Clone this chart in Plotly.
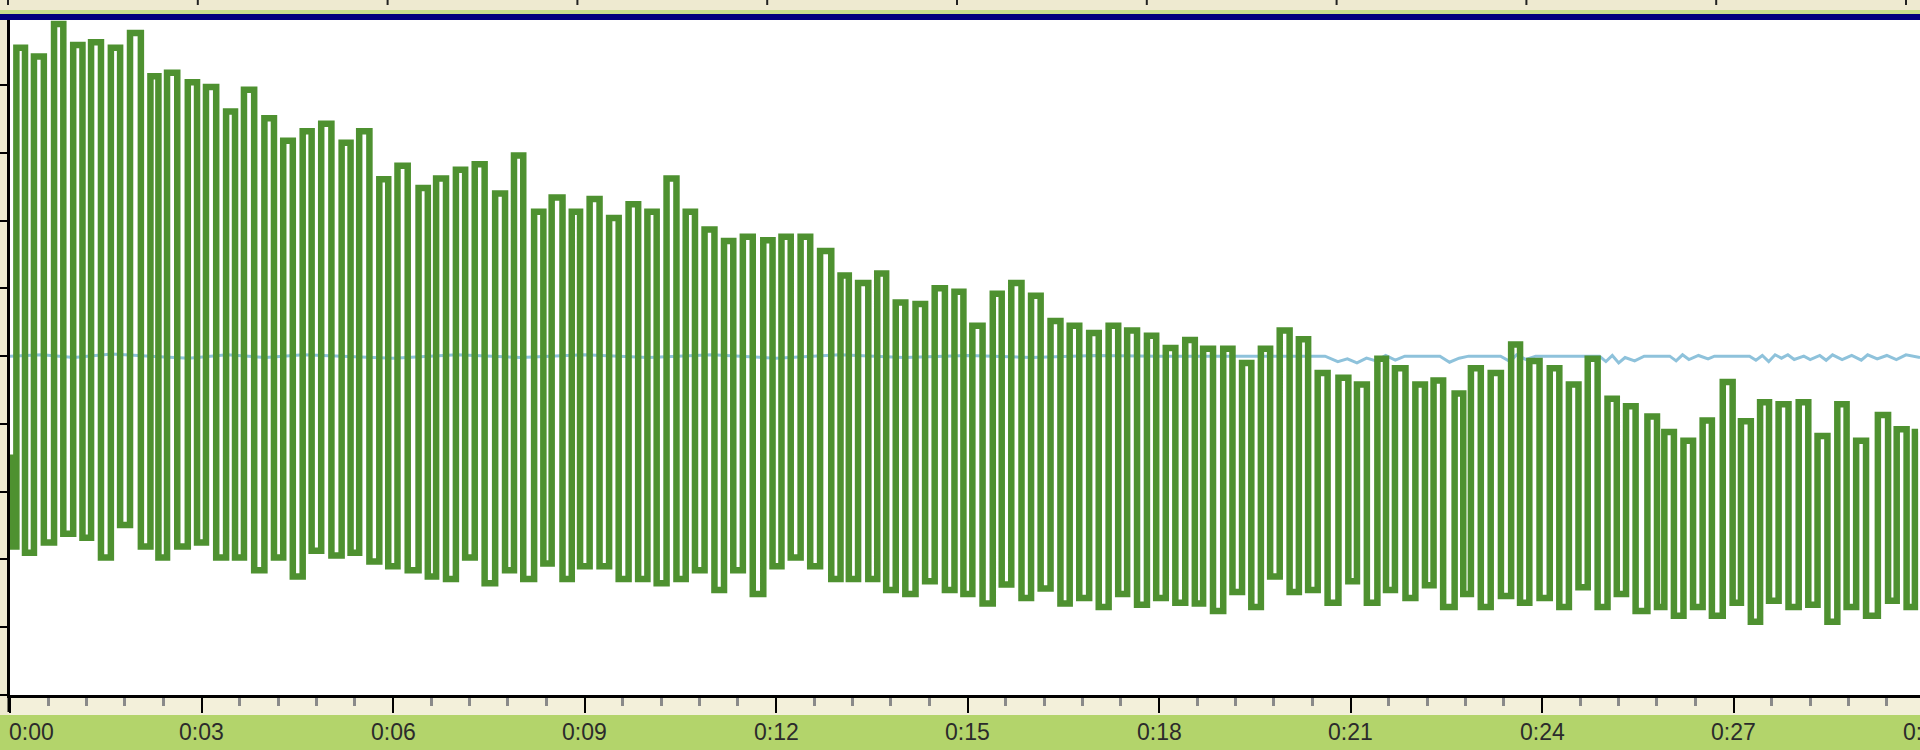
import plotly.graph_objects as go

# ---- data ----
# time axis tick labels (seconds)
tick_vals = [0, 3, 6, 9, 12, 15, 18, 21, 24, 27, 30]
tick_text = ["0:00", "0:03", "0:06", "0:09", "0:12", "0:15", "0:18", "0:21", "0:24", "0:27", "0:30"]

start_t, start_v = 0.0, -1.5

trough_t = [0.04, 0.31, 0.62, 0.91, 1.20, 1.51, 1.80, 2.14, 2.39, 2.71,
            3.00, 3.32, 3.60, 3.92, 4.22, 4.52, 4.80, 5.12, 5.40, 5.72,
            6.00, 6.32, 6.61, 6.92, 7.21, 7.52, 7.83, 8.12, 8.41, 8.75,
            9.01, 9.32, 9.62, 9.92, 10.21, 10.52, 10.81, 11.12, 11.41, 11.72,
            12.01, 12.30, 12.60, 12.95, 13.21, 13.53, 13.81, 14.11, 14.41, 14.73,
            15.01, 15.33, 15.61, 15.93, 16.23, 16.54, 16.84, 17.14, 17.44, 17.75,
            18.04, 18.34, 18.64, 18.95, 19.24, 19.53, 19.82, 20.13, 20.42, 20.73,
            21.04, 21.35, 21.62, 21.95, 22.25, 22.55, 22.82, 23.13, 23.45, 23.73,
            24.05, 24.35, 24.65, 24.96, 25.25, 25.55, 25.85, 26.15, 26.45, 26.74,
            27.05, 27.36, 27.64, 27.95, 28.25, 28.56, 28.85, 29.16, 29.48, 29.79]
trough_v = [-2.81, -2.90, -2.75, -2.62, -2.68, -2.97, -2.49, -2.81, -2.97, -2.81,
            -2.75, -2.97, -2.97, -3.16, -2.97, -3.25, -2.87, -2.94, -2.90, -3.03,
            -3.10, -3.16, -3.25, -3.29, -2.97, -3.35, -3.16, -3.29, -3.06, -3.29,
            -3.10, -3.10, -3.29, -3.29, -3.35, -3.29, -3.16, -3.45, -3.16, -3.51,
            -3.10, -2.97, -3.10, -3.29, -3.29, -3.29, -3.45, -3.51, -3.32, -3.45,
            -3.51, -3.65, -3.37, -3.57, -3.43, -3.65, -3.57, -3.70, -3.51, -3.67,
            -3.57, -3.64, -3.65, -3.76, -3.48, -3.70, -3.25, -3.48, -3.45, -3.64,
            -3.32, -3.64, -3.45, -3.57, -3.38, -3.70, -3.51, -3.70, -3.54, -3.64,
            -3.57, -3.70, -3.41, -3.70, -3.51, -3.76, -3.70, -3.83, -3.70, -3.83,
            -3.64, -3.92, -3.61, -3.70, -3.67, -3.92, -3.70, -3.83, -3.61, -3.70]

peak_t = [0.16, 0.44, 0.76, 1.07, 1.34, 1.65, 1.96, 2.26, 2.53, 2.86,
          3.14, 3.45, 3.73, 4.05, 4.34, 4.65, 4.95, 5.27, 5.54, 5.85,
          6.14, 6.48, 6.74, 7.05, 7.35, 7.68, 7.96, 8.30, 8.56, 8.85,
          9.15, 9.45, 9.76, 10.05, 10.36, 10.65, 10.95, 11.25, 11.55, 11.88,
          12.16, 12.47, 12.78, 13.07, 13.36, 13.64, 13.94, 14.26, 14.56, 14.86,
          15.14, 15.46, 15.76, 16.06, 16.37, 16.66, 16.97, 17.28, 17.56, 17.87,
          18.17, 18.48, 18.74, 19.06, 19.36, 19.66, 19.96, 20.25, 20.55, 20.89,
          21.16, 21.49, 21.77, 22.08, 22.35, 22.71, 22.95, 23.26, 23.58, 23.87,
          24.19, 24.49, 24.78, 25.09, 25.38, 25.75, 25.98, 26.28, 26.58, 26.92,
          27.18, 27.47, 27.77, 28.09, 28.38, 28.69, 28.99, 29.36, 29.63, 29.89]
peak_v = [4.55, 4.42, 4.90, 4.59, 4.63, 4.55, 4.77, 4.13, 4.18, 4.04,
          3.97, 3.61, 3.93, 3.51, 3.18, 3.32, 3.43, 3.15, 3.32, 2.61,
          2.81, 2.48, 2.62, 2.75, 2.83, 2.40, 2.96, 2.13, 2.34, 2.13,
          2.32, 2.04, 2.24, 2.13, 2.62, 2.13, 1.87, 1.70, 1.76, 1.71,
          1.76, 1.76, 1.55, 1.19, 1.08, 1.22, 0.79, 0.77, 1.00, 0.95,
          0.45, 0.92, 1.08, 0.89, 0.52, 0.45, 0.34, 0.45, 0.38, 0.30,
          0.12, 0.24, 0.11, 0.11, -0.10, 0.11, 0.38, 0.25, -0.25, -0.32,
          -0.42, -0.04, -0.18, -0.42, -0.36, -0.55, -0.18, -0.25, 0.17, -0.07,
          -0.18, -0.42, -0.04, -0.63, -0.74, -0.89, -1.12, -1.25, -0.95, -0.38,
          -0.96, -0.68, -0.71, -0.68, -1.18, -0.71, -1.25, -0.87, -1.08, -1.12]

blue_t = [0.0, 0.5, 1.0, 1.6, 2.2, 2.8, 3.4, 4.0, 4.6, 5.2, 6.0, 7.0, 8.0, 9.0, 10.0,
          11.0, 12.0, 13.0, 14.0, 15.0, 16.0, 17.0, 18.0, 20.6, 20.8, 20.95, 21.1,
          21.25, 21.4, 21.55, 21.7, 21.85, 22.4, 22.55, 22.7, 22.85, 23.35, 23.5,
          23.6, 23.75, 23.9, 24.9, 25.0, 25.1, 25.2, 25.3, 25.45, 25.6, 26.0, 26.1,
          26.2, 26.3, 26.45, 26.6, 26.7, 27.25, 27.35, 27.45, 27.55, 27.65, 27.75,
          27.85, 27.95, 28.1, 28.2, 28.35, 28.45, 28.55, 28.7, 28.85, 29.0, 29.1,
          29.25, 29.4, 29.55, 29.7, 29.92]
blue_v = [0.00, 0.02, -0.02, 0.03, 0.00, -0.03, 0.02, -0.02, 0.02, 0.00, -0.03, 0.02,
          -0.02, 0.02, -0.02, 0.02, -0.03, 0.02, -0.02, 0.01, -0.02, 0.01, 0.00, 0.00,
          -0.08, -0.04, -0.10, -0.03, -0.07, 0.01, -0.06, 0.00, 0.00, -0.09, -0.03,
          0.00, 0.00, -0.08, 0.02, -0.05, 0.00, 0.00, -0.08, 0.01, -0.10, -0.02, -0.07,
          0.00, 0.00, -0.07, 0.02, -0.05, 0.01, -0.04, 0.00, 0.00, -0.06, 0.01, -0.08,
          0.02, -0.03, 0.02, -0.05, 0.00, -0.05, 0.01, -0.06, 0.02, -0.05, 0.01, -0.06,
          0.02, -0.04, 0.01, -0.05, 0.02, -0.02]

# ---- build traces ----
green_x = [start_t]
green_y = [start_v]
for tt, tv, pt, pv in zip(trough_t, trough_v, peak_t, peak_v):
    green_x += [tt, pt]
    green_y += [tv, pv]

X_MAX = 29.92
Y_MIN, Y_MAX = -5.0, 4.96
PLOT_H = 675.0
PLOT_W = 1910.0

fig = go.Figure()
fig.add_trace(go.Scatter(x=blue_t, y=blue_v, mode="lines",
                         line=dict(color="#8EC2DB", width=3), hoverinfo="skip"))
fig.add_trace(go.Scatter(x=green_x, y=green_y, mode="lines",
                         line=dict(color="#4E9130", width=6.5, shape="hvh"),
                         hoverinfo="skip"))

shapes = []
# top strip: light green line + navy bar
shapes.append(dict(type="rect", xref="paper", yref="paper",
                   x0=-10 / PLOT_W, x1=1.0, y0=1 + 6 / PLOT_H, y1=1 + 10 / PLOT_H,
                   fillcolor="#C6DE8C", line=dict(width=0), layer="above"))
shapes.append(dict(type="rect", xref="paper", yref="paper",
                   x0=-10 / PLOT_W, x1=1.0, y0=1.0, y1=1 + 6 / PLOT_H,
                   fillcolor="#00007E", line=dict(width=0), layer="above"))
# bottom green label band
shapes.append(dict(type="rect", xref="paper", yref="paper",
                   x0=-10 / PLOT_W, x1=1.0, y0=-55 / PLOT_H, y1=-20 / PLOT_H,
                   fillcolor="#B3D46B", line=dict(width=0), layer="below"))
# pale strip under axis
shapes.append(dict(type="rect", xref="paper", yref="paper",
                   x0=0, x1=1.0, y0=-20 / PLOT_H, y1=-2 / PLOT_H,
                   fillcolor="#F3F0DA", line=dict(width=0), layer="below"))
# left axis extension
shapes.append(dict(type="line", xref="paper", yref="paper",
                   x0=-1 / PLOT_W, x1=-1 / PLOT_W, y0=0, y1=-17 / PLOT_H,
                   line=dict(color="black", width=3), layer="above"))
# top strip ticks (the upper ruler is drawn at a slightly tighter scale)
for v in tick_vals:
    xp = (-2 + v / 3 * 189.8) / PLOT_W
    shapes.append(dict(type="line", xref="paper", yref="paper",
                       x0=xp, x1=xp, y0=1 + 15 / PLOT_H, y1=1 + 20 / PLOT_H,
                       line=dict(color="#222222", width=2), layer="above"))

annotations = []
for v, txt in zip(tick_vals, tick_text):
    xp = v / X_MAX
    anchor = "center"
    if v == 0:
        xp = -2 / PLOT_W
        anchor = "left"
    annotations.append(dict(x=xp, y=-37 / PLOT_H, xref="paper", yref="paper",
                            text=txt, showarrow=False, xanchor=anchor,
                            yanchor="middle", borderpad=0,
                            font=dict(family="Liberation Sans, Arial, sans-serif",
                                      size=23, color="#2b2b2b")))

fig.update_layout(
    width=1920, height=750,
    margin=dict(l=10, r=0, t=20, b=55, pad=0),
    paper_bgcolor="#EEEAD0",
    plot_bgcolor="#FFFFFF",
    showlegend=False,
    shapes=shapes,
    annotations=annotations,
    hovermode=False,
)
fig.update_xaxes(range=[0, X_MAX], showgrid=False, zeroline=False,
                 showline=True, linecolor="black", linewidth=3,
                 ticks="outside", tickmode="linear", tick0=0, dtick=3,
                 ticklen=15, tickwidth=2, tickcolor="black",
                 showticklabels=False,
                 minor=dict(ticks="outside", tickmode="linear", tick0=0, dtick=0.6,
                            ticklen=8, tickwidth=3, tickcolor="#8A8A8A",
                            showgrid=False))
fig.update_yaxes(range=[Y_MIN, Y_MAX], showgrid=False, zeroline=False,
                 showline=True, linecolor="black", linewidth=3,
                 ticks="outside", tickmode="linear", tick0=0, dtick=1,
                 ticklen=8, tickwidth=2, tickcolor="black",
                 showticklabels=False)

fig.write_html("out.html", config={"displayModeBar": False},
               post_script="document.body.style.margin='0px';"
                           "document.body.style.overflow='hidden';")
